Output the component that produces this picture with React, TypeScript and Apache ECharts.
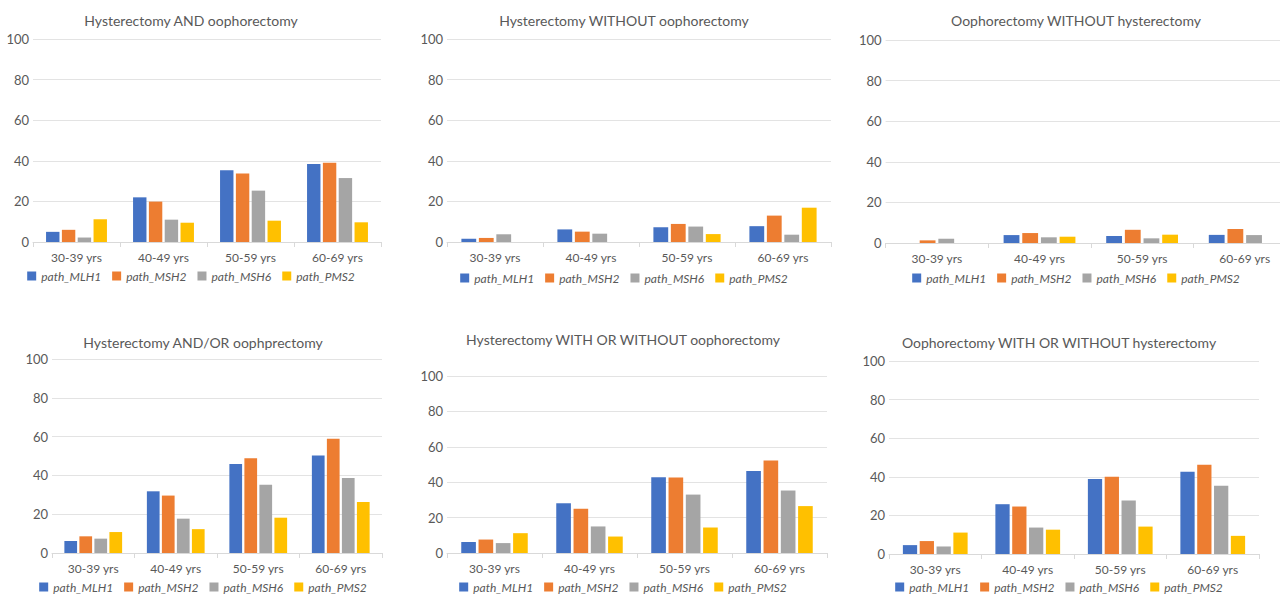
import React, { useEffect, useRef } from "react";
import * as echarts from "echarts";

const categories = ["30-39 yrs", "40-49 yrs", "50-59 yrs", "60-69 yrs"];
const seriesNames = ["path_MLH1", "path_MSH2", "path_MSH6", "path_PMS2"];
const colors = ["#4472C4", "#ED7D31", "#A5A5A5", "#FFC000"];
const yTicks = [0, 20, 40, 60, 80, 100];

const titles = [
  "Hysterectomy AND oophorectomy",
  "Hysterectomy WITHOUT oophorectomy",
  "Oophorectomy WITHOUT hysterectomy",
  "Hysterectomy AND/OR oophprectomy",
  "Hysterectomy WITH OR WITHOUT oophorectomy",
  "Oophorectomy WITH OR WITHOUT hysterectomy",
];

// Panel 1: Hysterectomy AND oophorectomy
const andMLH1 = [5, 22, 35.3, 38.4];
const andMSH2 = [6, 19.9, 33.7, 39.1];
const andMSH6 = [2.2, 11, 25.3, 31.5];
const andPMS2 = [11.2, 9.5, 10.5, 9.7];

// Panel 2: Hysterectomy WITHOUT oophorectomy
const hNoOMLH1 = [1.6, 6.2, 7.3, 7.8];
const hNoOMSH2 = [2, 5.1, 8.9, 13];
const hNoOMSH6 = [3.8, 4.1, 7.6, 3.6];
const hNoOPMS2 = [0, 0, 3.9, 16.9];

// Panel 3: Oophorectomy WITHOUT hysterectomy
const oNoHMLH1 = [0, 3.9, 3.5, 4.0];
const oNoHMSH2 = [1.3, 4.9, 6.5, 6.9];
const oNoHMSH6 = [2.1, 2.8, 2.3, 3.9];
const oNoHPMS2 = [0, 3.1, 4.1, 0];

// Panel 4: Hysterectomy AND/OR oophprectomy
const andOrMLH1 = [6.2, 31.8, 45.9, 50.2];
const andOrMSH2 = [8.6, 29.6, 48.8, 58.9];
const andOrMSH6 = [7.4, 17.7, 35.2, 38.7];
const andOrPMS2 = [10.8, 12.3, 18.2, 26.3];

// Panel 5: Hysterectomy WITH OR WITHOUT oophorectomy
const hAnyMLH1 = [6.2, 28.1, 42.8, 46.3];
const hAnyMSH2 = [7.6, 25, 42.6, 52.2];
const hAnyMSH6 = [5.6, 15, 33, 35.3];
const hAnyPMS2 = [11.2, 9.3, 14.4, 26.5];

// Panel 6: Oophorectomy WITH OR WITHOUT hysterectomy
const oAnyMLH1 = [4.6, 25.8, 38.8, 42.6];
const oAnyMSH2 = [6.7, 24.6, 40, 46.2];
const oAnyMSH6 = [3.9, 13.7, 27.7, 35.3];
const oAnyPMS2 = [11.1, 12.6, 14.2, 9.4];

const panelData = [
  [andMLH1, andMSH2, andMSH6, andPMS2],
  [hNoOMLH1, hNoOMSH2, hNoOMSH6, hNoOPMS2],
  [oNoHMLH1, oNoHMSH2, oNoHMSH6, oNoHPMS2],
  [andOrMLH1, andOrMSH2, andOrMSH6, andOrPMS2],
  [hAnyMLH1, hAnyMSH2, hAnyMSH6, hAnyPMS2],
  [oAnyMLH1, oAnyMSH2, oAnyMSH6, oAnyPMS2],
];

// Layout (page pixels)
const layouts = [
  { cx: 191, top: 0, gl: 33, gr: 381, gt: 39, gb: 242, ty: 20, ly: 276 },
  { cx: 624, top: 0, gl: 447, gr: 831, gt: 39, gb: 242, ty: 20, ly: 278 },
  { cx: 1076, top: 0, gl: 885, gr: 1296, gt: 40, gb: 243, ty: 20, ly: 278 },
  { cx: 203, top: 300, gl: 52, gr: 382, gt: 359, gb: 553, ty: 342, ly: 587 },
  { cx: 623, top: 300, gl: 447, gr: 827, gt: 376, gb: 553, ty: 339, ly: 587 },
  { cx: 1059, top: 300, gl: 889, gr: 1259, gt: 361, gb: 554, ty: 342, ly: 587 },
];

const PANEL_W = 440;
const PANEL_H = 294;
const FONT = "Lato, 'Open Sans', sans-serif";
const TEXT = "#595959";

function Panel({ idx }: { idx: number }) {
  const ref = useRef<HTMLDivElement>(null);
  const L = layouts[idx];
  const divLeft = L.cx - PANEL_W / 2;
  useEffect(() => {
    if (!ref.current) return;
    const chart = echarts.init(ref.current, undefined, { renderer: "svg" });
    const data = panelData[idx];
    chart.setOption({
      animation: false,
      textStyle: { fontFamily: FONT },
      title: {
        text: titles[idx],
        left: "center",
        top: L.ty - L.top - 12,
        textStyle: { fontFamily: FONT, fontSize: 14, fontWeight: "normal", color: TEXT },
      },
      legend: {
        data: seriesNames,
        left: "center",
        top: L.ly - L.top - 11,
        icon: "rect",
        itemWidth: 9,
        itemHeight: 9,
        itemGap: 11,
        textStyle: { fontFamily: FONT, fontSize: 12, fontStyle: "italic", color: TEXT },
      },
      grid: {
        left: L.gl - divLeft,
        right: divLeft + PANEL_W - L.gr,
        top: L.gt - L.top,
        bottom: L.top + PANEL_H - L.gb,
        containLabel: false,
      },
      xAxis: {
        type: "category",
        data: categories,
        axisLine: { lineStyle: { color: "#d9d9d9" } },
        axisTick: { show: true, length: 5, lineStyle: { color: "#d9d9d9" } },
        axisLabel: { color: TEXT, fontSize: 12, margin: 9, interval: 0, fontFamily: FONT },
      },
      yAxis: {
        type: "value",
        min: yTicks[0],
        max: yTicks[yTicks.length - 1],
        interval: 20,
        axisLine: { show: false },
        axisTick: { show: false },
        splitLine: { lineStyle: { color: "#e3e3e3" } },
        axisLabel: { color: TEXT, fontSize: 13, margin: 4, fontFamily: FONT },
      },
      series: seriesNames.map((name, i) => ({
        name,
        type: "bar",
        data: data[i],
        itemStyle: { color: colors[i] },
        barGap: "18%",
        barCategoryGap: "30%",
      })),
    });
    return () => chart.dispose();
  }, [idx]);
  return (
    <div
      ref={ref}
      style={{ position: "absolute", left: divLeft, top: L.top, width: PANEL_W, height: PANEL_H }}
    />
  );
}

export default function App() {
  return (
    <div
      style={{
        position: "fixed",
        left: 0,
        top: 0,
        width: 1280,
        height: 594,
        overflow: "hidden",
        background: "#fff",
      }}
    >
      {layouts.map((_, i) => (
        <Panel key={i} idx={i} />
      ))}
    </div>
  );
}
